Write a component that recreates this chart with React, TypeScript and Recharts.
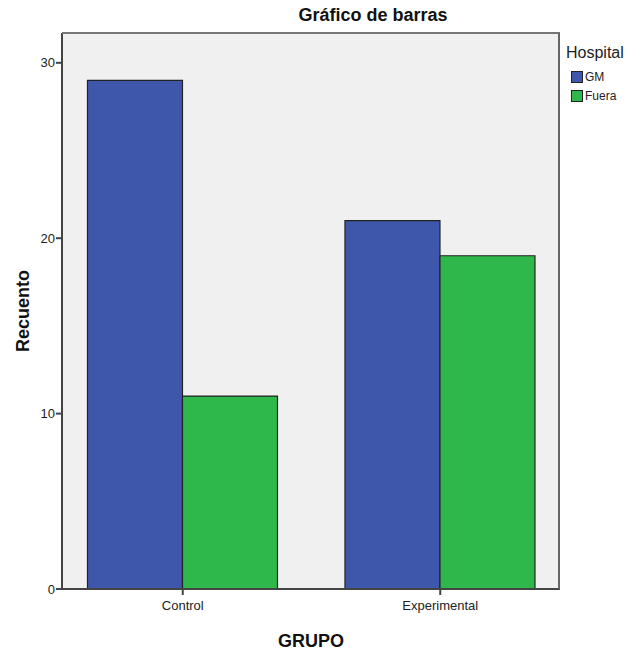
import React from "react";
import { BarChart, Bar, XAxis, YAxis, CartesianGrid } from "recharts";

const grupos = ["Control", "Experimental"];
const gmValues = [29, 21];
const fueraValues = [11, 19];
const yTicks = [0, 10, 20, 30];

const data = grupos.map((g, i) => ({
  grupo: g,
  GM: gmValues[i],
  Fuera: fueraValues[i],
}));

const FONT = "'Liberation Sans Narrow', 'Liberation Sans', Arial, sans-serif";
const BLUE = "#3e57ab";
const GREEN = "#2eb84b";

const legendItems = [
  { name: "GM", color: BLUE },
  { name: "Fuera", color: GREEN },
];

const HospitalLegend = () => (
  <div
    style={{
      position: "absolute",
      left: 566,
      top: 44,
      fontFamily: FONT,
      color: "#222",
    }}
  >
    <div style={{ fontSize: 16, marginBottom: 5 }}>Hospital</div>
    {legendItems.map((e) => (
      <div
        key={e.name}
        style={{ display: "flex", alignItems: "center", fontSize: 12, height: 19 }}
      >
        <span
          style={{
            display: "inline-block",
            width: 10,
            height: 10,
            background: e.color,
            border: "1px solid #222",
            marginRight: 2,
            marginLeft: 5,
          }}
        />
        {e.name}
      </div>
    ))}
  </div>
);

export default function App() {
  return (
    <div style={{ position: "absolute", left: 0, top: 0, width: 630, height: 655, background: "#fff" }}>
      <div
        style={{
          position: "absolute",
          left: 294,
          width: 158,
          top: 5,
          textAlign: "center",
          fontFamily: FONT,
          fontWeight: "bold",
          fontSize: 18,
          color: "#111",
        }}
      >
        Gráfico de barras
      </div>
      <BarChart
        width={630}
        height={655}
        data={data}
        margin={{ top: 33, right: 70, bottom: 0, left: 22 }}
        barCategoryGap="13%"
        barGap={0}
      >
        <CartesianGrid horizontal={false} vertical={false} fill="#f0f0f0" />
        <XAxis
          dataKey="grupo"
          height={66}
          padding={{ left: -8, right: -9 }}
          stroke="#444"
          strokeWidth={2}
          tickSize={6}
          tick={{ fontFamily: FONT, fontSize: 13, fill: "#222" }}
          tickMargin={6}
          label={{
            value: "GRUPO",
            position: "insideBottom",
            offset: 8,
            style: { fontFamily: FONT, fontWeight: "bold", fontSize: 18, fill: "#111" },
          }}
        />
        <YAxis
          domain={[0, 31.7]}
          ticks={yTicks}
          width={40}
          stroke="#444"
          strokeWidth={2}
          tickSize={6}
          tickMargin={1}
          tick={{ fontFamily: FONT, fontSize: 13, fill: "#222" }}
          label={{
            value: "Recuento",
            angle: -90,
            position: "insideLeft",
            offset: 1,
            style: {
              textAnchor: "middle",
              fontFamily: FONT,
              fontWeight: "bold",
              fontSize: 18,
              fill: "#111",
            },
          }}
        />
        <Bar dataKey="GM" fill={BLUE} stroke="#222" strokeWidth={1.2} isAnimationActive={false} />
        <Bar dataKey="Fuera" fill={GREEN} stroke="#222" strokeWidth={1.2} isAnimationActive={false} />
      </BarChart>
      <div
        style={{
          position: "absolute",
          left: 62,
          top: 32,
          width: 498,
          height: 557,
          borderTop: "2px solid #777",
          borderRight: "2px solid #666",
          boxSizing: "border-box",
          pointerEvents: "none",
        }}
      />
      <HospitalLegend />
    </div>
  );
}
